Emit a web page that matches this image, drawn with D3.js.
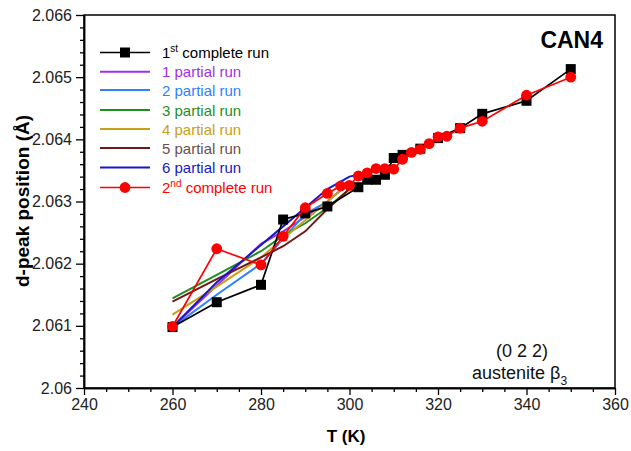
<!DOCTYPE html>
<html>
<head>
<meta charset="utf-8">
<title>CAN4 d-peak position vs T</title>
<script src="https://d3js.org/d3.v7.min.js"></script>
<style>
  body { margin: 0; background: #fff; }
  text { font-family: "Liberation Sans", Arial, sans-serif; }
</style>
</head>
<body>
<svg width="631" height="451"></svg>
<script>
// data
var run1T = [260, 270, 280, 285, 290, 295, 302, 304, 306, 308, 310, 312, 316, 320, 325, 330, 340, 350];
var run1D = [2.06098, 2.06138, 2.06166, 2.06271, 2.06281, 2.06292, 2.06323, 2.06335, 2.06335, 2.06343, 2.0637, 2.06375, 2.06385, 2.06402, 2.06418, 2.06441, 2.06462, 2.06513];

var run2T = [260, 270, 280, 285, 290, 295, 298, 300, 302, 304, 306, 308, 310, 312, 314, 316, 318, 320, 322, 325, 330, 340, 350];
var run2D = [2.06099, 2.06224, 2.06198, 2.06244, 2.0629, 2.06313, 2.06325, 2.06326, 2.06341, 2.06346, 2.06353, 2.06353, 2.06352, 2.06368, 2.06379, 2.06384, 2.06393, 2.06404, 2.06405, 2.06418, 2.06429, 2.06471, 2.065];

var partialT = [260, 270, 280, 285, 290, 295, 300];
var partial1 = [2.06098, 2.06165, 2.06232, 2.06252, 2.06275, 2.06300, 2.06330];
var partial2 = [2.06098, 2.06150, 2.06200, 2.06240, 2.06280, 2.06300, 2.06330];
var partial3 = [2.06144, 2.06182, 2.06220, 2.06245, 2.06265, 2.06290, 2.06320];
var partial4 = [2.06118, 2.06163, 2.06210, 2.06240, 2.06270, 2.06300, 2.06330];
var partial5 = [2.06139, 2.06175, 2.06210, 2.06228, 2.06252, 2.06288, 2.06320];
var partial6T = [260, 270, 280, 285, 290, 295, 300, 306];
var partial6 = [2.06098, 2.06170, 2.06230, 2.06260, 2.06290, 2.06320, 2.06340, 2.06350];

var partialNames = ["1 partial run", "2 partial run", "3 partial run", "4 partial run", "5 partial run", "6 partial run"];
var partialColors = ["#a030e8", "#2f80ff", "#1f8f1f", "#c8a018", "#701818", "#1818c8"];
var partialText = ["#a030e8", "#2f80ff", "#1f8f1f", "#c8a018", "#6b5050", "#1818c8"];

var xTicks = [240, 260, 280, 300, 320, 340, 360];
var yTicks = [2.06, 2.061, 2.062, 2.063, 2.064, 2.065, 2.066];

var svg = d3.select("svg");

var x = d3.scaleLinear().domain([240, 360]).range([84, 615]);
var y = d3.scaleLinear().domain([2.06, 2.066]).range([388, 15]);

// frame
svg.append("rect")
    .attr("x", 84).attr("y", 15)
    .attr("width", 615 - 84).attr("height", 388 - 15)
    .attr("fill", "none").attr("stroke", "#000").attr("stroke-width", 1.5);

// x axis
svg.append("g")
    .attr("transform", "translate(0,388)")
    .call(d3.axisBottom(x).tickValues(xTicks).tickSize(7).tickSizeOuter(0).tickPadding(4).tickFormat(d3.format("d")));
svg.append("g")
    .attr("transform", "translate(0,388)")
    .call(d3.axisBottom(x).tickValues(d3.range(245, 360, 5).filter(function (d) { return d % 20 != 0; })).tickSize(4).tickSizeOuter(0).tickFormat(""));

// y axis
svg.append("g")
    .attr("transform", "translate(84,0)")
    .call(d3.axisLeft(y).tickValues(yTicks).tickSize(8).tickSizeOuter(0).tickPadding(4)
        .tickFormat(function (d) { return String(+d.toFixed(3)); }));
var minorY = d3.range(1, 30).map(function (i) { return 2.06 + i * 0.0002; }).filter(function (d, i) { return (i + 1) % 5 != 0; });
svg.append("g")
    .attr("transform", "translate(84,0)")
    .call(d3.axisLeft(y).tickValues(minorY).tickSize(4).tickSizeOuter(0).tickFormat(""));

svg.selectAll(".domain").attr("stroke-width", 1.5);
svg.selectAll(".tick line").attr("stroke-width", 1.3);
svg.selectAll(".tick text").attr("font-size", 16).attr("fill", "#222")
    .attr("font-family", "'Liberation Sans', Arial, sans-serif");

// axis titles
svg.append("text")
    .attr("x", 346).attr("y", 442)
    .attr("text-anchor", "middle")
    .attr("font-size", 17).attr("font-weight", "bold")
    .text("T (K)");
svg.append("text")
    .attr("transform", "translate(29,201) rotate(-90)")
    .attr("text-anchor", "middle")
    .attr("font-size", 19).attr("font-weight", "bold")
    .text("d-peak position  (Å)");

var line = d3.line()
    .x(function (d) { return x(d[0]); })
    .y(function (d) { return y(d[1]); });

// partial runs
var partials = [partial1, partial2, partial3, partial4, partial5];
partials.forEach(function (vals, i) {
    svg.append("path")
        .attr("d", line(d3.zip(partialT, vals)))
        .attr("fill", "none")
        .attr("stroke", partialColors[i])
        .attr("stroke-width", 2);
});
svg.append("path")
    .attr("d", line(d3.zip(partial6T, partial6)))
    .attr("fill", "none")
    .attr("stroke", partialColors[5])
    .attr("stroke-width", 2);

// 1st complete run
var run1 = d3.zip(run1T, run1D);
svg.append("path")
    .attr("d", line(run1))
    .attr("fill", "none").attr("stroke", "#000").attr("stroke-width", 1.7);
svg.selectAll(".sq")
    .data(run1)
    .enter().append("rect")
    .attr("class", "sq")
    .attr("x", function (d) { return x(d[0]) - 5; })
    .attr("y", function (d) { return y(d[1]) - 5; })
    .attr("width", 10).attr("height", 10)
    .attr("fill", "#000");

// 2nd complete run
var run2 = d3.zip(run2T, run2D);
svg.append("path")
    .attr("d", line(run2))
    .attr("fill", "none").attr("stroke", "#ff0000").attr("stroke-width", 1.7);
svg.selectAll(".dot")
    .data(run2)
    .enter().append("circle")
    .attr("class", "dot")
    .attr("cx", function (d) { return x(d[0]); })
    .attr("cy", function (d) { return y(d[1]); })
    .attr("r", 5.4)
    .attr("fill", "#ff0000");

// legend
var legY = [52.5, 71.7, 90, 110, 129, 148, 167.5, 187.5];
var lg = svg.append("g");
lg.append("line").attr("x1", 100).attr("x2", 150).attr("y1", legY[0]).attr("y2", legY[0])
    .attr("stroke", "#000").attr("stroke-width", 1.7);
lg.append("rect").attr("x", 120).attr("y", legY[0] - 5).attr("width", 10).attr("height", 10).attr("fill", "#000");
var t1 = lg.append("text").attr("x", 162).attr("y", legY[0] + 5.5).attr("font-size", 15).attr("fill", "#000");
t1.append("tspan").text("1");
t1.append("tspan").attr("font-size", 10).attr("dy", -6).text("st");
t1.append("tspan").attr("dy", 6).text(" complete run");

partialNames.forEach(function (name, i) {
    var yy = legY[i + 1];
    lg.append("line").attr("x1", 100).attr("x2", 150).attr("y1", yy).attr("y2", yy)
        .attr("stroke", partialColors[i]).attr("stroke-width", 2);
    lg.append("text").attr("x", 162).attr("y", yy + 5.5).attr("font-size", 15)
        .attr("fill", partialText[i]).text(name);
});

var yr = legY[7];
lg.append("line").attr("x1", 100).attr("x2", 150).attr("y1", yr).attr("y2", yr)
    .attr("stroke", "#ff0000").attr("stroke-width", 1.7);
lg.append("circle").attr("cx", 125).attr("cy", yr).attr("r", 5.4).attr("fill", "#ff0000");
var t2 = lg.append("text").attr("x", 162).attr("y", yr + 5.5).attr("font-size", 15).attr("fill", "#ff0000");
t2.append("tspan").text("2");
t2.append("tspan").attr("font-size", 10).attr("dy", -6).text("nd");
t2.append("tspan").attr("dy", 6).text(" complete run");

// annotations
svg.append("text")
    .attr("x", 603).attr("y", 48)
    .attr("text-anchor", "end")
    .attr("font-size", 23).attr("font-weight", "bold")
    .text("CAN4");

svg.append("text")
    .attr("x", 522).attr("y", 357)
    .attr("text-anchor", "middle")
    .attr("font-size", 18).attr("fill", "#111")
    .text("(0 2 2)");
var beta = svg.append("text")
    .attr("x", 472).attr("y", 379)
    .attr("font-size", 18).attr("fill", "#111");
beta.append("tspan").text("austenite β");
beta.append("tspan").attr("font-size", 12).attr("dy", 6).text("3");
</script>
</body>
</html>
